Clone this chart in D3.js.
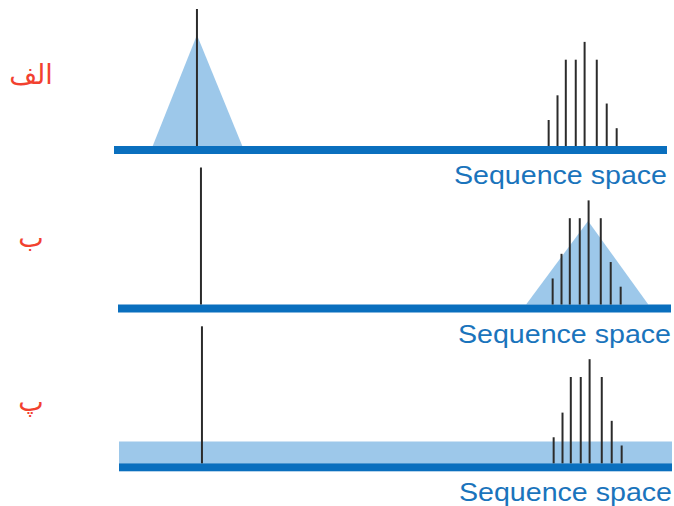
<!DOCTYPE html>
<html>
<head>
<meta charset="utf-8">
<script src="https://cdn.jsdelivr.net/npm/d3@7"></script>
<style>
  body { margin: 0; background: #fff; }
  svg { display: block; }
</style>
</head>
<body>
<svg id="chart"></svg>
<script>
// panel labels (Persian letters) and the axis title
const panelLabels = ["الف", "ب", "پ"];
const axisTitle = "Sequence space";

// position of the master sequence and the mutant cloud in sequence space (0-100)
const masterPos = 15;
const masterHeight = 100;
const mutantPos = [78.6, 80.2, 81.7, 83.5, 85.1, 87.3, 89.1, 90.9];
const mutantHeights = [19, 37, 63, 63, 76, 63, 31, 13];

// fitness landscape of each panel, as [position, height] points
const landscapeA = [[7, 0], [15, 81], [23.2, 0]];
const landscapeB = [[73.8, 0], [85, 61], [95.9, 0]];
const landscapeC = [[0, 0], [0, 16], [100, 16], [100, 0]];
const landscapes = [landscapeA, landscapeB, landscapeC];

var width = 674;
var height = 506;

// where each panel sits on the page
var panelX = [114, 118, 119];
var panelY = [146, 304.5, 463.3];
var panelW = 553;
var barH = 8;

var svg = d3.select('#chart')
  .attr('width', width)
  .attr('height', height);

var x = d3.scaleLinear().domain([0, 100]).range([0, panelW]);
var y = d3.scaleLinear().domain([0, 100]).range([0, -137]);

var line = d3.line()
  .x(d => x(d[0]))
  .y(d => y(d[1]));

for (let i = 0; i < 3; i++) {
  var g = svg.append('g')
    .attr('transform', 'translate(' + panelX[i] + ',' + panelY[i] + ')');

  // fitness landscape (light blue)
  g.append('path')
    .attr('d', line(landscapes[i]) + 'Z')
    .attr('fill', '#9dc8ea');

  // the sequence space bar
  g.append('rect')
    .attr('x', x(0))
    .attr('y', 0)
    .attr('width', x(100) - x(0))
    .attr('height', barH)
    .attr('fill', '#0a6fbe');

  // master sequence spike
  g.append('line')
    .attr('x1', x(masterPos)).attr('x2', x(masterPos))
    .attr('y1', 0).attr('y2', y(masterHeight))
    .attr('stroke', '#2b2b2b')
    .attr('stroke-width', 2);

  // mutant spikes
  g.selectAll('line.mutant')
    .data(mutantPos)
    .join('line')
    .attr('class', 'mutant')
    .attr('x1', d => x(d)).attr('x2', d => x(d))
    .attr('y1', 0)
    .attr('y2', (d, j) => y(mutantHeights[j]))
    .attr('stroke', '#2b2b2b')
    .attr('stroke-width', 2);

  // axis title under the bar
  g.append('text')
    .attr('x', x(100))
    .attr('y', barH + 30)
    .attr('text-anchor', 'end')
    .attr('font-family', 'Liberation Sans, Arial, sans-serif')
    .attr('font-size', 25)
    .attr('fill', '#1a74bc')
    .attr('textLength', 213)
    .attr('lengthAdjust', 'spacingAndGlyphs')
    .text(axisTitle);
}

// red panel letters on the left
var labelY = [84, 247, 411];
svg.selectAll('text.panel')
  .data(panelLabels)
  .join('text')
  .attr('class', 'panel')
  .attr('x', 31)
  .attr('y', (d, i) => labelY[i])
  .attr('text-anchor', 'middle')
  .attr('direction', 'rtl')
  .attr('font-family', 'DejaVu Sans, sans-serif')
  .attr('font-size', 27)
  .attr('fill', '#f2412f')
  .text(d => d);
</script>
</body>
</html>
